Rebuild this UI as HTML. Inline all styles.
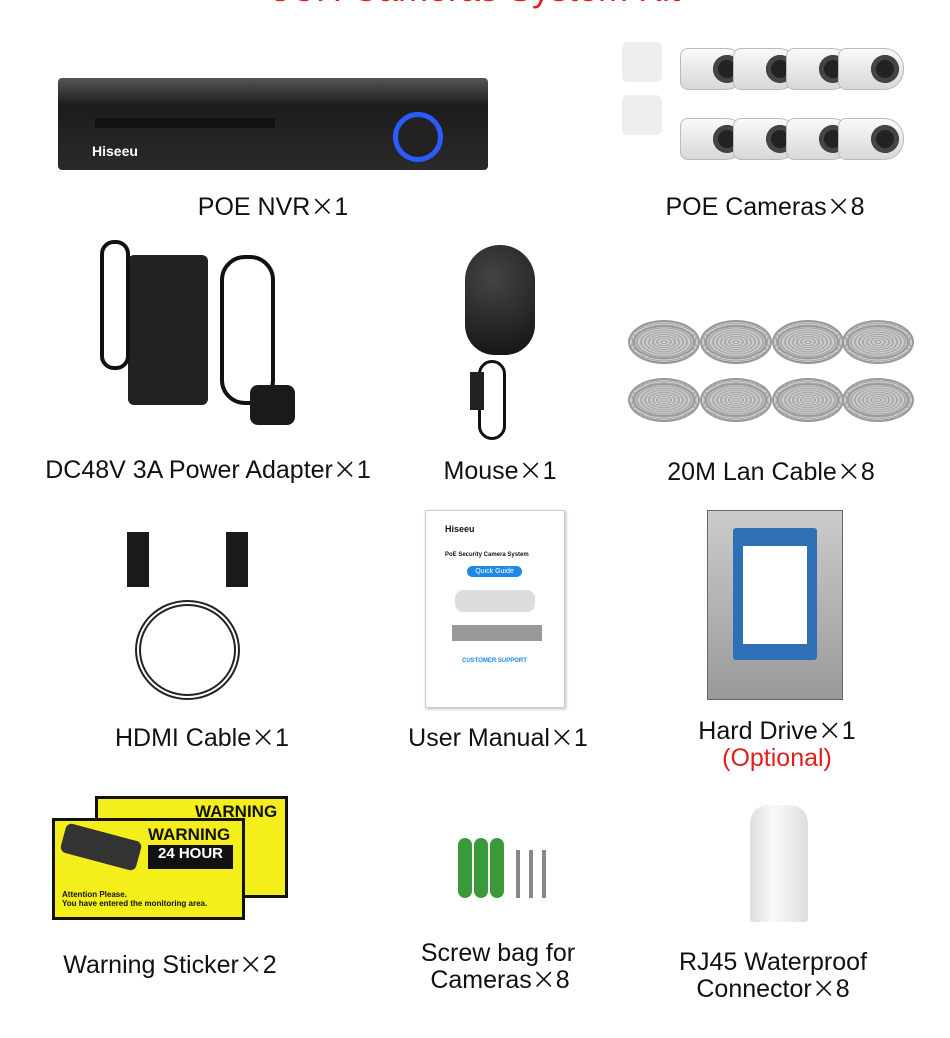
<!DOCTYPE html>
<html><head><meta charset="utf-8"><style>
*{margin:0;padding:0;box-sizing:border-box}
body{width:950px;height:1038px;background:#fff;position:relative;overflow:hidden;font-family:"Liberation Sans",sans-serif;color:#111}
.a{position:absolute}
.l{position:absolute;font-size:25px;text-align:center;white-space:nowrap;transform:translateX(-50%);line-height:26px}
.x{font-family:"Noto Sans CJK SC",sans-serif;font-size:24px}
.cam{position:absolute;width:66px;height:42px;background:linear-gradient(#fafafa,#d8d8d8);border-radius:8px 20px 20px 8px;border:1px solid #bbb}
.cam::after{content:"";position:absolute;right:4px;top:6px;width:28px;height:28px;border-radius:50%;background:#222;box-shadow:inset 0 0 0 5px #444}
.coil{position:absolute;width:72px;height:44px;border-radius:50%;border:7px double #9a9a9a;background:repeating-radial-gradient(ellipse,#ccc 0 2px,#aaa 2px 4px)}
</style></head><body>
<div class="a" style="left:0;right:0;top:-30px;text-align:center;color:#e0201a;font-size:36px;line-height:38px">8CH Cameras System Kit</div>

<div class="a" style="left:58px;top:78px;width:430px;height:92px;background:linear-gradient(#555,#1c1c1c 30%,#2a2a2a);border-radius:4px"></div>
<div class="a" style="left:95px;top:118px;width:180px;height:10px;background:#111"></div>
<div class="a" style="left:92px;top:143px;color:#fff;font-size:14px;font-weight:bold">Hiseeu</div>
<div class="a" style="left:393px;top:112px;width:50px;height:50px;border-radius:50%;border:5px solid #2a5bff;background:#222"></div>

<div class="cam" style="left:680px;top:48px"></div><div class="cam" style="left:733px;top:48px"></div><div class="cam" style="left:786px;top:48px"></div><div class="cam" style="left:838px;top:48px"></div>
<div class="cam" style="left:680px;top:118px"></div><div class="cam" style="left:733px;top:118px"></div><div class="cam" style="left:786px;top:118px"></div><div class="cam" style="left:838px;top:118px"></div>
<div class="a" style="left:622px;top:42px;width:40px;height:40px;background:#eee;border-radius:6px"></div>
<div class="a" style="left:622px;top:95px;width:40px;height:40px;background:#eee;border-radius:6px"></div>

<div class="l" style="left:273px;top:192px">POE NVR<span class="x">×</span>1</div>
<div class="l" style="left:765px;top:192px">POE Cameras<span class="x">×</span>8</div>

<div class="a" style="left:128px;top:255px;width:80px;height:150px;background:#222;border-radius:6px"></div>
<div class="a" style="left:100px;top:240px;width:30px;height:130px;border:4px solid #111;border-radius:14px"></div>
<div class="a" style="left:220px;top:255px;width:55px;height:150px;border:4px solid #111;border-radius:25px"></div>
<div class="a" style="left:250px;top:385px;width:45px;height:40px;background:#1a1a1a;border-radius:8px"></div>

<div class="a" style="left:465px;top:245px;width:70px;height:110px;background:radial-gradient(circle at 40% 30%,#444,#111);border-radius:35px 35px 30px 30px"></div>
<div class="a" style="left:478px;top:360px;width:28px;height:80px;border:3px solid #111;border-radius:14px"></div>
<div class="a" style="left:470px;top:372px;width:14px;height:38px;background:#222"></div>

<div class="coil" style="left:628px;top:320px"></div><div class="coil" style="left:700px;top:320px"></div><div class="coil" style="left:772px;top:320px"></div><div class="coil" style="left:842px;top:320px"></div>
<div class="coil" style="left:628px;top:378px"></div><div class="coil" style="left:700px;top:378px"></div><div class="coil" style="left:772px;top:378px"></div><div class="coil" style="left:842px;top:378px"></div>

<div class="l" style="left:208px;top:455px">DC48V 3A Power Adapter<span class="x">×</span>1</div>
<div class="l" style="left:500px;top:456px">Mouse<span class="x">×</span>1</div>
<div class="l" style="left:771px;top:457px">20M Lan Cable<span class="x">×</span>8</div>

<div class="a" style="left:127px;top:532px;width:22px;height:55px;background:#1a1a1a"></div>
<div class="a" style="left:226px;top:532px;width:22px;height:55px;background:#1a1a1a"></div>
<div class="a" style="left:135px;top:600px;width:105px;height:100px;border:6px double #222;border-radius:50%"></div>

<div class="a" style="left:425px;top:510px;width:140px;height:198px;background:#fff;border:1px solid #ccc;box-shadow:1px 1px 3px #bbb"></div>
<div class="a" style="left:445px;top:524px;font-size:9px;font-weight:bold">Hiseeu</div>
<div class="a" style="left:445px;top:552px;font-size:6px;font-weight:bold">PoE Security Camera System</div>
<div class="a" style="left:467px;top:566px;width:55px;height:11px;background:#1e88e5;border-radius:6px;color:#fff;font-size:7px;text-align:center;line-height:11px">Quick Guide</div>
<div class="a" style="left:455px;top:590px;width:80px;height:22px;background:#ddd;border-radius:8px"></div>
<div class="a" style="left:452px;top:625px;width:90px;height:16px;background:#999"></div>
<div class="a" style="left:462px;top:658px;font-size:6px;color:#1e88e5;font-weight:bold">CUSTOMER SUPPORT</div>

<div class="a" style="left:707px;top:510px;width:136px;height:190px;background:linear-gradient(#ccc,#999);border:1px solid #666"></div>
<div class="a" style="left:733px;top:528px;width:84px;height:132px;background:#fff;border:10px solid #2e6fb5;border-top-width:18px;border-bottom-width:16px;border-radius:3px"></div>

<div class="l" style="left:202px;top:723px">HDMI Cable<span class="x">×</span>1</div>
<div class="l" style="left:498px;top:723px">User Manual<span class="x">×</span>1</div>
<div class="l" style="left:777px;top:716px">Hard Drive<span class="x">×</span>1</div>
<div class="l" style="left:777px;top:745px;color:#e0201a">(Optional)</div>

<div class="a" style="left:95px;top:796px;width:193px;height:102px;background:#f4ee1a;border:3px solid #111"></div>
<div class="a" style="left:195px;top:802px;font-size:17px;font-weight:bold">WARNING</div>
<div class="a" style="left:52px;top:818px;width:193px;height:102px;background:#f4ee1a;border:3px solid #111"></div>
<div class="a" style="left:148px;top:825px;font-size:17px;font-weight:bold">WARNING</div>
<div class="a" style="left:148px;top:845px;width:85px;height:24px;background:#111;color:#fff;font-size:15px;font-weight:bold;text-align:center">24 HOUR</div>
<div class="a" style="left:62px;top:832px;width:78px;height:30px;background:#333;border-radius:6px;transform:rotate(15deg)"></div>
<div class="a" style="left:62px;top:890px;font-size:8px;font-weight:bold">Attention Please.<br>You have entered the monitoring area.</div>

<div class="a" style="left:458px;top:838px;width:14px;height:60px;background:#3a9a3a;border-radius:7px"></div>
<div class="a" style="left:474px;top:838px;width:14px;height:60px;background:#3a9a3a;border-radius:7px"></div>
<div class="a" style="left:490px;top:838px;width:14px;height:60px;background:#3a9a3a;border-radius:7px"></div>
<div class="a" style="left:516px;top:850px;width:4px;height:48px;background:#888"></div>
<div class="a" style="left:529px;top:850px;width:4px;height:48px;background:#888"></div>
<div class="a" style="left:542px;top:850px;width:4px;height:48px;background:#888"></div>

<div class="a" style="left:750px;top:805px;width:58px;height:117px;background:linear-gradient(90deg,#ddd,#fafafa 40%,#ddd);border-radius:18px 18px 3px 3px"></div>

<div class="l" style="left:170px;top:950px">Warning Sticker<span class="x">×</span>2</div>
<div class="l" style="left:498px;top:940px">Screw bag for</div>
<div class="l" style="left:500px;top:965px">Cameras<span class="x">×</span>8</div>
<div class="l" style="left:773px;top:949px">RJ45 Waterproof</div>
<div class="l" style="left:773px;top:974px">Connector<span class="x">×</span>8</div>
</body></html>
